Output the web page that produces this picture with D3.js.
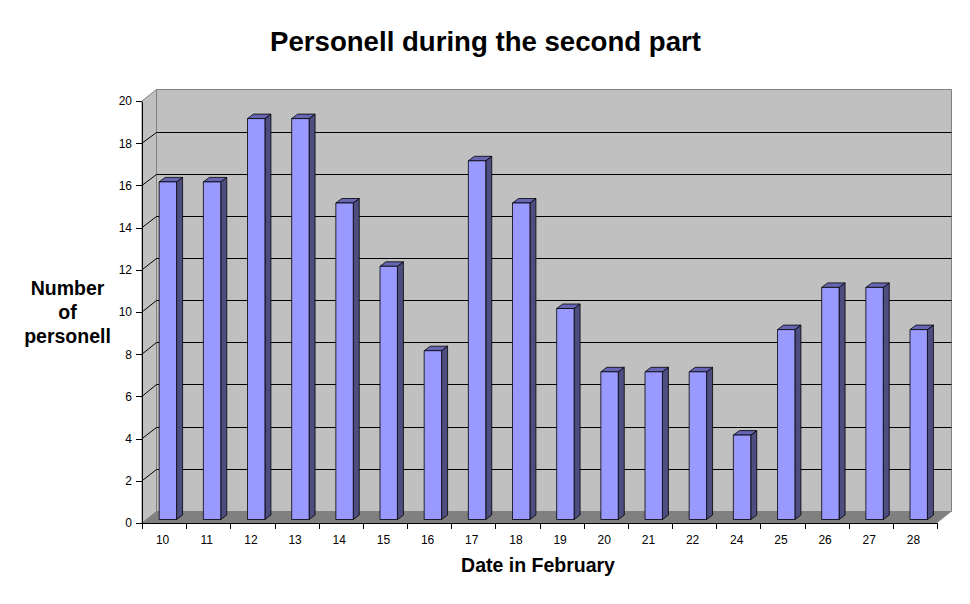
<!DOCTYPE html>
<html lang="en">
<head>
    <meta charset="UTF-8">
    <title>Personell during the second part</title>
    <script src="https://d3js.org/d3.v7.min.js"></script>
    <style>
        html, body {margin: 0; background: white;}
        svg {display: block;}
        text {font-family: "Liberation Sans", Arial, sans-serif; fill: black;}
        .axis text {font-size: 12px;}
        .axis path, .axis line {stroke: black; stroke-width: 1; shape-rendering: crispEdges;}
        .label {font-size: 19.5px; font-weight: bold; text-anchor: middle;}
    </style>
</head>
<body>
<script>
    const dates = ["10","11","12","13","14","15","16","17","18","19","20","21","22","24","25","26","27","28"];
    const personell = [16,16,19,19,15,12,8,17,15,10,7,7,7,4,9,11,11,9];
    const yTicks = [0,2,4,6,8,10,12,14,16,18,20];
    const yLabelLines = ["Number","of","personell"];

    const width = 970;
    const height = 604;
    const plotLeft = 142, plotRight = 937, plotBottom = 523, plotTop = 101;
    const depthX = 14.5, depthY = 11.5;       // floor / wall offset
    const barDepthX = 6, barDepthY = 4.5;     // bar's own depth
    const barShift = 3.8;                     // bars sit further back than the axis

    const svg = d3.select("body").append("svg")
            .attr("width", width).attr("height", height);

    const x = d3.scaleBand().domain(dates).range([plotLeft, plotRight]).paddingInner(0.606).paddingOuter(0.303);
    const edges = d3.scaleLinear().domain([0, dates.length]).range([plotLeft, plotRight]);
    const y = d3.scaleLinear().domain([0, 20]).range([plotBottom, plotTop]);
    const yBack = d3.scaleLinear().domain([0, 20]).range([511.3, 90.3]);

    const pts = p => p.map(d => d.join(",")).join(" ");

    // walls and floor
    svg.append("polygon")
            .attr("points", pts([[plotLeft, y(0)], [plotLeft + depthX, y(0) - depthY], [plotLeft + depthX, y(20) - depthY], [plotLeft, y(20)]]))
            .style("fill", "#c0c0c0").style("stroke", "#808080");
    svg.append("polygon")
            .attr("points", pts([[plotLeft + depthX, y(0) - depthY], [plotRight + depthX, y(0) - depthY], [plotRight + depthX, y(20) - depthY], [plotLeft + depthX, y(20) - depthY]]))
            .style("fill", "#c0c0c0").style("stroke", "#808080");
    svg.append("polygon")
            .attr("points", pts([[plotLeft, y(0)], [plotLeft + depthX, y(0) - depthY], [plotRight + depthX, y(0) - depthY], [plotRight, y(0)]]))
            .style("fill", "#808080");

    // gridlines, running back along the side wall
    const grid = svg.append("g").style("fill", "none").style("stroke", "black").style("stroke-width", 1);
    grid.selectAll("polyline")
            .data(yTicks.filter(d => d > 0 && d < 20))
            .enter()
            .append("polyline")
            .attr("points", d => {
                const gy = Math.floor(yBack(d)) + 0.5;
                return pts([[plotLeft, y(d)], [plotLeft + depthX, gy], [plotRight + depthX, gy]]);
            });

    // bars
    const base = y(0) - 3.5;
    const barY = d => base - (y(0) - y(d));
    const barX = i => x(dates[i]) + barShift;
    const bars = svg.append("g").selectAll("g.bar")
            .data(personell)
            .enter()
            .append("g")
            .attr("class", "bar")
            .style("stroke", "black")
            .style("stroke-width", 0.8)
            .style("stroke-linejoin", "round");
    bars.append("polygon")
            .style("fill", "#4d4d80")
            .attr("points", (d, i) => {
                const r = barX(i) + x.bandwidth();
                return pts([[r, base], [r + barDepthX, base - barDepthY], [r + barDepthX, barY(d) - barDepthY], [r, barY(d)]]);
            });
    bars.append("polygon")
            .style("fill", "#6666b3")
            .attr("points", (d, i) => {
                const l = barX(i), r = l + x.bandwidth();
                return pts([[l, barY(d)], [l + barDepthX, barY(d) - barDepthY], [r + barDepthX, barY(d) - barDepthY], [r, barY(d)]]);
            });
    bars.append("rect")
            .style("fill", "#9999ff")
            .attr("x", (d, i) => barX(i))
            .attr("y", d => barY(d))
            .attr("width", x.bandwidth())
            .attr("height", d => base - barY(d));

    // axes
    svg.append("g").attr("class", "axis")
            .attr("transform", `translate(${plotLeft},0)`)
            .call(d3.axisLeft(y).tickValues(yTicks).tickSize(6).tickPadding(4).tickSizeOuter(0));
    svg.append("g").attr("class", "axis")
            .attr("transform", `translate(0,${plotBottom})`)
            .call(d3.axisBottom(edges).ticks(dates.length).tickSize(6).tickSizeOuter(0).tickFormat(""));
    svg.append("g").attr("class", "axis")
            .attr("transform", `translate(-1.5,${plotBottom})`)
            .call(d3.axisBottom(x).tickSize(0).tickPadding(12))
            .call(g => g.select(".domain").remove());

    // titles
    svg.append("text").attr("x", 485.5).attr("y", 51)
            .style("font-size", "27.6px").style("font-weight", "bold").style("text-anchor", "middle")
            .text("Personell during the second part");
    svg.append("text").attr("class", "label").attr("x", 538).attr("y", 572).text("Date in February");
    svg.append("g").selectAll("text")
            .data(yLabelLines)
            .enter()
            .append("text")
            .attr("class", "label")
            .attr("x", 67.5)
            .attr("y", (d, i) => 295 + i * 24)
            .text(d => d);
</script>
</body>
</html>
